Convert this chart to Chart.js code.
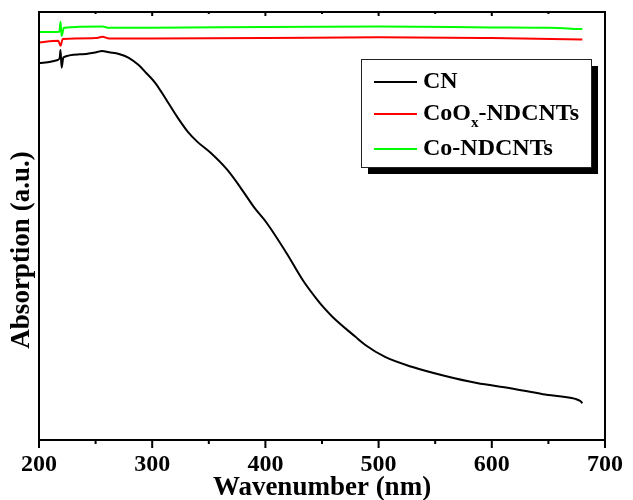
<!DOCTYPE html>
<html>
<head>
<meta charset="utf-8">
<script src="https://cdn.jsdelivr.net/npm/chart.js@4"></script>
<style>
  body { margin: 0; background: #fff; }
</style>
</head>
<body>
<canvas id="chart" width="633" height="500"></canvas>
<script>
// values (y in arbitrary units, 0..100)
const cnNm  = [200, 216.6, 218.3, 219, 220, 221.5, 235.7, 250.5, 255.7, 261.8, 270.6, 279.3, 288, 294.9, 302.8, 311.5, 322.8, 331.5, 340.2, 351.6, 366.4, 377.7, 389.9, 401.2, 418.6, 433.4, 444.8, 452, 459.6, 479.6, 488.3, 505.7, 529.3, 558, 586.8, 616.4, 645.1, 673.9, 678.2, 680];
const cnAbs = [88.0, 88.8, 89.3, 91.1, 87.0, 89.4, 90.1, 90.6, 90.9, 90.6, 90.2, 89.3, 87.6, 85.7, 83.4, 79.9, 75.2, 72.0, 69.6, 67.1, 63.1, 59.1, 54.4, 50.7, 43.7, 37.2, 33.1, 30.8, 28.7, 24.1, 22.2, 19.4, 17.1, 15.0, 13.3, 12.1, 10.7, 9.6, 9.1, 8.6];

const coOxNm  = [200, 217, 219, 221, 250, 256, 262, 300, 400, 500, 600, 680];
const coOxAbs = [92.9, 93.3, 92.1, 93.7, 93.9, 94.2, 93.8, 93.8, 93.9, 94.1, 93.9, 93.6];

const coNm  = [200, 218, 219, 220, 222, 256, 262, 300, 400, 500, 600, 650, 680];
const coAbs = [95.3, 95.4, 97.7, 94.4, 96.3, 96.6, 96.3, 96.3, 96.5, 96.6, 96.4, 96.3, 96.0];

const seriesLabels = ['CN', 'CoOx-NDCNTs', 'Co-NDCNTs'];
const seriesColors = ['#000000', '#ff0000', '#00ff00'];
const xTicks = [200, 250, 300, 350, 400, 450, 500, 550, 600, 650, 700];
const yTitle = 'Absorption (a.u.)';

const FONT = 'Liberation Serif, Times New Roman, serif';

function toPoints(xs, ys) {
  return xs.map((x, i) => ({ x: x, y: ys[i] }));
}

// frame, tick marks, y title and the boxed legend with shadow
const framePlugin = {
  id: 'frame',
  afterDatasetsDraw(chart) {
    const { ctx, chartArea: a, scales: { x } } = chart;
    ctx.save();
    ctx.strokeStyle = '#000';
    ctx.lineWidth = 2;
    ctx.strokeRect(a.left, a.top, a.right - a.left, a.bottom - a.top);
    xTicks.forEach(v => {
      const px = x.getPixelForValue(v);
      const major = v % 100 === 0;
      ctx.beginPath();
      ctx.moveTo(px, a.bottom);
      ctx.lineTo(px, a.bottom + (major ? 8 : 4));
      ctx.moveTo(px, a.top);
      ctx.lineTo(px, a.top + (major ? 4 : 2));
      ctx.stroke();
    });

    // y axis title, sits a little below the middle in the original
    ctx.save();
    ctx.translate(22, 250);
    ctx.rotate(-Math.PI / 2);
    ctx.fillStyle = '#000';
    ctx.font = 'bold 27px ' + FONT;
    ctx.textAlign = 'center';
    ctx.textBaseline = 'middle';
    ctx.fillText(yTitle, 0, 0);
    ctx.restore();

    // legend
    const bx = 361, by = 59, bw = 230, bh = 108;
    ctx.fillStyle = '#000';
    ctx.fillRect(bx + 7, by + 7, bw, bh);
    ctx.fillStyle = '#fff';
    ctx.fillRect(bx, by, bw, bh);
    ctx.lineWidth = 1;
    ctx.strokeStyle = '#222';
    ctx.strokeRect(bx + 0.5, by + 0.5, bw, bh);

    const rows = [82, 114, 149];
    ctx.textBaseline = 'middle';
    ctx.textAlign = 'left';
    seriesLabels.forEach((lab, i) => {
      const y = rows[i];
      ctx.strokeStyle = seriesColors[i];
      ctx.lineWidth = 2;
      ctx.beginPath();
      ctx.moveTo(374, y);
      ctx.lineTo(417, y);
      ctx.stroke();
      ctx.fillStyle = '#000';
      ctx.font = 'bold 24px ' + FONT;
      if (lab === 'CoOx-NDCNTs') {
        ctx.fillText('CoO', 423, y);
        let w = ctx.measureText('CoO').width;
        ctx.font = 'bold 15px ' + FONT;
        ctx.fillText('x', 423 + w, y + 9);
        w += ctx.measureText('x').width;
        ctx.font = 'bold 24px ' + FONT;
        ctx.fillText('-NDCNTs', 423 + w, y);
      } else {
        ctx.fillText(lab, 423, y);
      }
    });
    ctx.restore();
  }
};

const ctx = document.getElementById('chart').getContext('2d');
new Chart(ctx, {
  type: 'line',
  data: {
    datasets: [
      { label: seriesLabels[0], data: toPoints(cnNm, cnAbs), borderColor: seriesColors[0] },
      { label: seriesLabels[1], data: toPoints(coOxNm, coOxAbs), borderColor: seriesColors[1] },
      { label: seriesLabels[2], data: toPoints(coNm, coAbs), borderColor: seriesColors[2] }
    ]
  },
  options: {
    responsive: false,
    animation: false,
    devicePixelRatio: 1,
    layout: { padding: { top: 12, right: 20, left: 0, bottom: 0 } },
    elements: {
      point: { radius: 0 },
      line: { borderWidth: 2, cubicInterpolationMode: 'monotone', fill: false }
    },
    plugins: {
      legend: { display: false },
      tooltip: { enabled: false }
    },
    scales: {
      x: {
        type: 'linear',
        min: 200,
        max: 700,
        afterFit: function(scale) { scale.height = 60; },
        grid: { display: false, drawTicks: false },
        border: { display: false },
        ticks: {
          stepSize: 100,
          padding: 10,
          color: '#000',
          font: { family: FONT, size: 24, weight: 'bold' }
        },
        title: {
          display: true,
          text: 'Wavenumber (nm)',
          color: '#000',
          padding: { top: 0, bottom: -2 },
          font: { family: FONT, size: 27, weight: 'bold', lineHeight: 1 }
        }
      },
      y: {
        min: 0,
        max: 100,
        afterFit: function(scale) { scale.width = 39; },
        grid: { display: false, drawTicks: false },
        border: { display: false },
        ticks: { display: false }
      }
    }
  },
  plugins: [framePlugin]
});
</script>
</body>
</html>
